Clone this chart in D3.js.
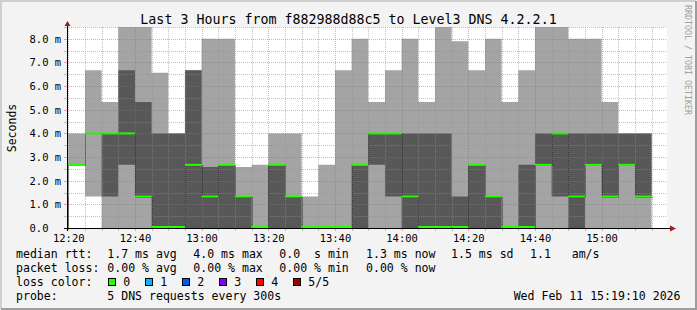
<!DOCTYPE html>
<html>
<head>
<meta charset="utf-8">
<script src="https://cdn.jsdelivr.net/npm/d3@7"></script>
<style>
  body { margin: 0; background: #f3f3f3; }
  text { font-family: "DejaVu Sans Mono", monospace; white-space: pre; }
</style>
</head>
<body>
<svg id="chart" width="697" height="310"></svg>
<script>

// 5 minute steps, each has 5 sorted DNS pings (ms)
var times   = ["12:15","12:20","12:25","12:30","12:35","12:40","12:45","12:50","12:55",
               "13:00","13:05","13:10","13:15","13:20","13:25","13:30","13:35","13:40",
               "13:45","13:50","13:55","14:00","14:05","14:10","14:15","14:20","14:25",
               "14:30","14:35","14:40","14:45","14:50","14:55","15:00","15:05","15:10"];
var pingMin = [0, 2.67, 1.33, 0, 0, 0, 0, 0, 0,
               0, 0, 0, 0, 0, 0, 0, 0, 0,
               0, 0, 0, 0, 0, 0, 0, 0, 0,
               0, 0, 0, 0, 0, 0, 0, 0, 0];
var ping2   = [0, 2.67, 4.0, 1.33, 2.67, 1.33, 0, 0, 0,
               0, 0, 0, 0, 0, 0, 0, 0, 0,
               0, 2.67, 1.33, 0, 0, 0, 0, 0, 0,
               0, 0, 2.67, 1.33, 0, 2.67, 1.33, 2.67, 1.33];
var median  = [0, 2.67, 4.0, 4.0, 4.0, 1.33, 0, 0, 2.67,
               1.33, 2.67, 1.33, 0, 2.67, 1.33, 0, 0, 0,
               2.67, 4.0, 4.0, 1.33, 0, 0, 0, 2.67, 1.33,
               0, 0, 2.67, 4.0, 1.33, 2.67, 1.33, 2.67, 1.33];
var ping4   = [1.33, 2.67, 4.0, 4.0, 6.67, 5.33, 4.0, 4.0, 6.67,
               2.58, 2.67, 1.33, 0, 2.67, 1.33, 0, 0, 0,
               2.67, 4.0, 4.0, 4.0, 4.0, 4.0, 1.33, 2.67, 1.33,
               0, 2.67, 4.0, 4.0, 4.0, 4.0, 4.0, 4.0, 4.0];
var pingMax = [1.33, 4.0, 6.67, 5.33, 8.5, 8.5, 6.57, 4.0, 6.67,
               8.0, 8.0, 2.58, 2.67, 4.0, 4.0, 1.33, 2.67, 6.67,
               8.0, 5.33, 6.67, 8.0, 5.33, 8.5, 7.9, 6.67, 8.0,
               5.33, 6.67, 8.5, 8.5, 8.0, 8.0, 5.33, 4.0, 4.0];

var xTickLabels = ["12:20","12:40","13:00","13:20","13:40","14:00","14:20","14:40","15:00"];
var yTickValues = [0,1,2,3,4,5,6,7,8];

var rttLabels  = ["1.7 ms avg","4.0 ms max","0.0  s min","1.3 ms now","1.5 ms sd","1.1   am/s"];
var lossLabels = ["0.00 % avg","0.00 % max","0.00 % min","0.00 % now"];
var lossColorLabels = ["0","1","2","3","4","5/5"];
var lossColors = ["#26ff00","#00b8ff","#0059ff","#7e00ff","#ff0000","#a10000"];

var W = 697, H = 310;
var pLeft = 67, pRight = 667, pTop = 27, pBottom = 228;

var parseT = d3.timeParse("%H:%M");
var parseS = d3.timeParse("%H:%M:%S");
var step = 5 * 60 * 1000;

var rows = times.map(function(t, i){
  return {t: parseT(t), min: pingMin[i], p2: ping2[i], med: median[i], p4: ping4[i], max: pingMax[i]};
});
// extend last step to its end
var lastRow = rows[rows.length - 1];
var stepRows = rows.concat([Object.assign({}, lastRow, {t: new Date(+lastRow.t + step)})]);

var xScale = d3.scaleTime()
  .domain([parseS("12:19:37"), parseS("15:19:37")])
  .range([pLeft, pRight]);

var yScale = d3.scaleLinear()
  .domain([0, 8.5])
  .range([pBottom, pTop]);

var svg = d3.select("#chart");

// background + 3d frame
svg.append("rect").attr("width", W).attr("height", H).attr("fill", "#f3f3f3");
svg.append("path").attr("d", "M1,309 V1 H696").attr("fill", "none").attr("stroke", "#cfcfcf").attr("stroke-width", 2);
svg.append("path").attr("d", "M1,309 H696 V1").attr("fill", "none").attr("stroke", "#9e9e9e").attr("stroke-width", 2);

// canvas
svg.append("rect").attr("x", pLeft).attr("y", pTop).attr("width", pRight - pLeft).attr("height", pBottom - pTop).attr("fill", "#fff");

svg.append("clipPath").attr("id", "plotclip")
  .append("rect").attr("x", pLeft).attr("y", pTop - 1).attr("width", pRight - pLeft).attr("height", pBottom - pTop + 2);

var plot = svg.append("g").attr("clip-path", "url(#plotclip)");

// smoke: outer pings light, inner pings dark
var outer = d3.area()
  .x(function(d){ return xScale(d.t); })
  .y0(function(d){ return yScale(d.min); })
  .y1(function(d){ return yScale(d.max); })
  .curve(d3.curveStepAfter);

var inner = d3.area()
  .x(function(d){ return xScale(d.t); })
  .y0(function(d){ return yScale(d.p2); })
  .y1(function(d){ return yScale(d.p4); })
  .curve(d3.curveStepAfter);

plot.append("path").datum(stepRows).attr("d", outer).attr("fill", "#a4a4a4");
plot.append("path").datum(stepRows).attr("d", inner).attr("fill", "#585858");

// grid (drawn on top like rrdtool)
var gridCol = "rgba(143,143,143,0.55)";
var mgridCol = "rgba(222,80,80,0.5)";

var minorX = d3.timeMinute.every(5).range(parseT("12:20"), new Date(+parseT("15:15") + 1));
minorX.forEach(function(t){
  var major = t.getMinutes() % 20 === 0;
  var x = Math.round(xScale(t)) + 0.5;
  svg.append("line").attr("x1", x).attr("x2", x).attr("y1", pTop).attr("y2", pBottom)
    .attr("stroke", major ? mgridCol : gridCol).attr("stroke-dasharray", "1,1");
  svg.append("line").attr("x1", x).attr("x2", x).attr("y1", pBottom).attr("y2", pBottom + 3)
    .attr("stroke", major ? mgridCol : gridCol);
});

d3.range(1, 18).forEach(function(k){
  var v = k * 0.5;
  var major = k % 2 === 0;
  var y = Math.round(yScale(v)) + 0.5;
  svg.append("line").attr("x1", pLeft).attr("x2", pRight).attr("y1", y).attr("y2", y)
    .attr("stroke", major ? mgridCol : gridCol).attr("stroke-dasharray", "1,1");
  svg.append("line").attr("x1", pLeft - 3).attr("x2", pLeft).attr("y1", y).attr("y2", y)
    .attr("stroke", major ? mgridCol : gridCol);
});

// median: dark step line + loss coloured segments
var medLine = d3.line()
  .x(function(d){ return Math.round(xScale(d.t)) + 0.5; })
  .y(function(d){ return Math.round(yScale(d.med)) + 0.5; })
  .curve(d3.curveStepAfter);

plot.append("path").datum(stepRows).attr("d", medLine)
  .attr("fill", "none").attr("stroke", "#101010").attr("stroke-width", 1)
  .attr("stroke-dasharray", "1,1");

plot.selectAll(".med").data(rows).enter().append("line")
  .attr("class", "med")
  .attr("x1", function(d){ return xScale(d.t); })
  .attr("x2", function(d){ return xScale(new Date(+d.t + step)); })
  .attr("y1", function(d){ return Math.min(yScale(d.med), pBottom - 1); })
  .attr("y2", function(d){ return Math.min(yScale(d.med), pBottom - 1); })
  .attr("stroke", lossColors[0]).attr("stroke-width", 2);

// axes
svg.append("line").attr("x1", pLeft - 3).attr("x2", pRight + 4).attr("y1", pBottom + 0.5).attr("y2", pBottom + 0.5)
  .attr("stroke", "#000");
svg.append("line").attr("x1", pLeft + 0.5).attr("x2", pLeft + 0.5).attr("y1", pBottom + 3).attr("y2", pTop - 2)
  .attr("stroke", "#000");
svg.append("path").attr("d", "M" + (pRight + 3) + "," + (pBottom - 2.5) + " L" + (pRight + 9) + "," + (pBottom + 0.5) + " L" + (pRight + 3) + "," + (pBottom + 3.5) + "Z")
  .attr("fill", "#9a1c1c");
svg.append("path").attr("d", "M" + (pLeft - 2.5) + "," + (pTop - 1) + " L" + (pLeft + 0.5) + "," + (pTop - 6) + " L" + (pLeft + 3.5) + "," + (pTop - 1) + "Z")
  .attr("fill", "#9a1c1c");

// tick labels
svg.selectAll(".xl").data(xTickLabels).enter().append("text")
  .attr("class", "xl")
  .attr("x", function(d){ return xScale(parseT(d)) + 0.5; })
  .attr("y", 241.5)
  .attr("text-anchor", "middle")
  .style("font-size", "10.5px")
  .text(function(d){ return d; });

svg.selectAll(".yl").data(yTickValues).enter().append("text")
  .attr("class", "yl")
  .attr("x", 29.5)
  .attr("y", function(d){ return yScale(d) + 4; })
  .style("font-size", "10.5px")
  .text(function(d){ return d === 0 ? "0.0" : d.toFixed(1) + " m"; });

// titles
svg.append("text").attr("x", 348.5).attr("y", 24).attr("text-anchor", "middle")
  .style("font-size", "13.3px")
  .text("Last 3 Hours from f882988d88c5 to Level3 DNS 4.2.2.1");

svg.append("text").attr("transform", "translate(15.5,128) rotate(-90)").attr("text-anchor", "middle")
  .style("font-size", "11.5px")
  .text("Seconds");

svg.append("text").attr("transform", "translate(685,5) rotate(90)")
  .style("font-size", "8.3px").attr("fill", "#a0a0a0")
  .text("RRDTOOL / TOBI OETIKER");

// legend
var fs = "11.55px";
var colX = [107.3, 193.3, 279.3, 366, 451, 530];

function legendText(x, y, s, anchor){
  svg.append("text").attr("x", x).attr("y", y).attr("text-anchor", anchor || "start")
    .style("font-size", fs).text(s);
}

legendText(16, 258, "median rtt:");
rttLabels.forEach(function(s, i){ legendText(colX[i], 258, s); });

legendText(16, 272, "packet loss:");
lossLabels.forEach(function(s, i){ legendText(colX[i], 272, s); });

legendText(16, 286, "loss color:");
lossColorLabels.forEach(function(s, i){
  var bx = 108.5 + 37 * i;
  svg.append("rect").attr("x", bx).attr("y", 278.5).attr("width", 7).attr("height", 7)
    .attr("fill", lossColors[i]).attr("stroke", "#000").attr("stroke-width", 1);
  legendText(bx + 14.8, 286, s);
});

legendText(16, 299.7, "probe:");
legendText(107.3, 299.7, "5 DNS requests every 300s");
legendText(680.5, 299.7, "Wed Feb 11 15:19:10 2026", "end");

</script>
</body>
</html>
